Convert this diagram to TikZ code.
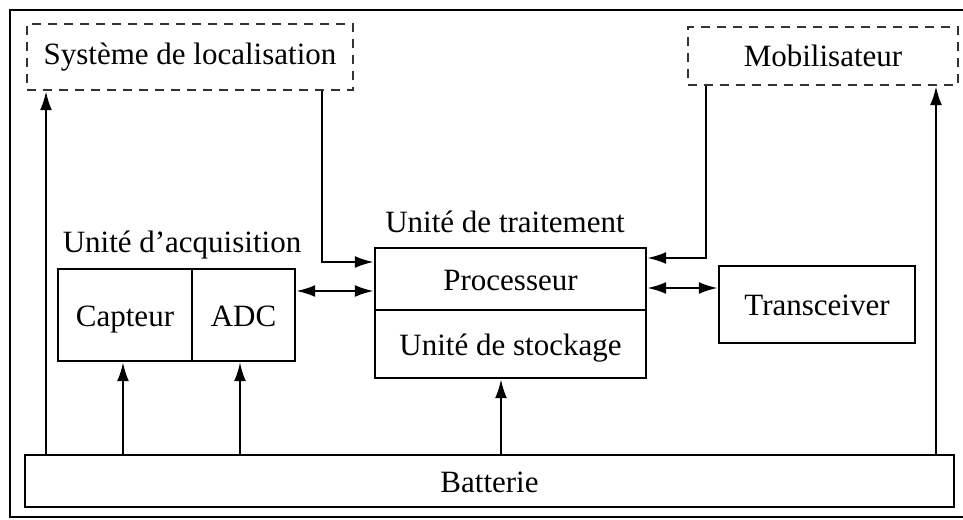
\documentclass[tikz,border=0pt]{standalone}
\usepackage{fontspec}
\setmainfont{Liberation Serif}
\usetikzlibrary{arrows.meta}

\begin{document}
\begin{tikzpicture}[%
x=1pt, y=-1pt,
font=\fontsize{31}{36}\selectfont,
line width=2.4pt,
box/.style={draw, inner sep=0pt, text height=25pt, text depth=3pt},
dbox/.style={draw=black!80, text=black, dash pattern=on 9pt off 7pt, inner sep=0pt},
arr/.style={-{Latex[length=19pt, width=12pt]}},
darr/.style={{Latex[length=19pt, width=12pt]}-{Latex[length=19pt, width=12pt]}},
]
\useasboundingbox (0,0) rectangle (963,519);
\clip (0,0) rectangle (963,519);
%% frame;
\draw (10,10) rectangle (975,517);
%% columns and rows of the connectors;
\coordinate (c1) at (46,0);
\coordinate (c2) at (123,0);
\coordinate (c3) at (240,0);
\coordinate (c4) at (501,0);
\coordinate (c5) at (936,0);
\coordinate (c6) at (322,0);
\coordinate (c7) at (706,0);
\coordinate (r1) at (0,291);
\coordinate (r2) at (0,262);
\coordinate (r3) at (0,258);
\coordinate (r4) at (0,288);
%% dashed boxes;
\node[dbox, minimum width=326pt, minimum height=66pt] (loc) at (190,57) {Système de localisation};
\node[dbox, minimum width=270pt, minimum height=58pt] (mob) at (823,56) {Mobilisateur};
%% acquisition;
\node (lacq) at (182,245) {Unité d’acquisition};
\node[box, minimum width=134pt, minimum height=92pt] (capt) at (125,315) {Capteur};
\node[box, minimum width=103pt, minimum height=92pt] (adc) at (243.5,315) {ADC};
%% traitement;
\node (ltrait) at (505,222) {Unité de traitement};
\node[box, minimum width=271pt, minimum height=62pt] (proc) at (510.5,279) {Processeur};
\node[box, minimum width=271pt, minimum height=68pt] (stock) at (510.5,344) {Unité de stockage};
%% transceiver;
\node[box, minimum width=196pt, minimum height=77pt] (trans) at (817,304.5) {Transceiver};
%% batterie;
\node[box, minimum width=929pt, minimum height=52pt] (bat) at (489.5,481) {Batterie};
%% supply;
\draw[arr] (bat.north -| c1) -- (loc.south -| c1);
\draw[arr] (bat.north -| c2) -- (capt.south -| c2);
\draw[arr] (bat.north -| c3) -- (adc.south -| c3);
\draw[arr] (bat.north -| c4) -- (stock.south -| c4);
\draw[arr] (bat.north -| c5) -- (mob.south -| c5);
%% data;
\draw[arr] (loc.south -| c6) |- (proc.west |- r2);
\draw[darr] (adc.east |- r1) -- (proc.west |- r1);
\draw[arr] (mob.south -| c7) |- (proc.east |- r3);
\draw[darr] (proc.east |- r4) -- (trans.west |- r4);
\end{tikzpicture}
\end{document}
